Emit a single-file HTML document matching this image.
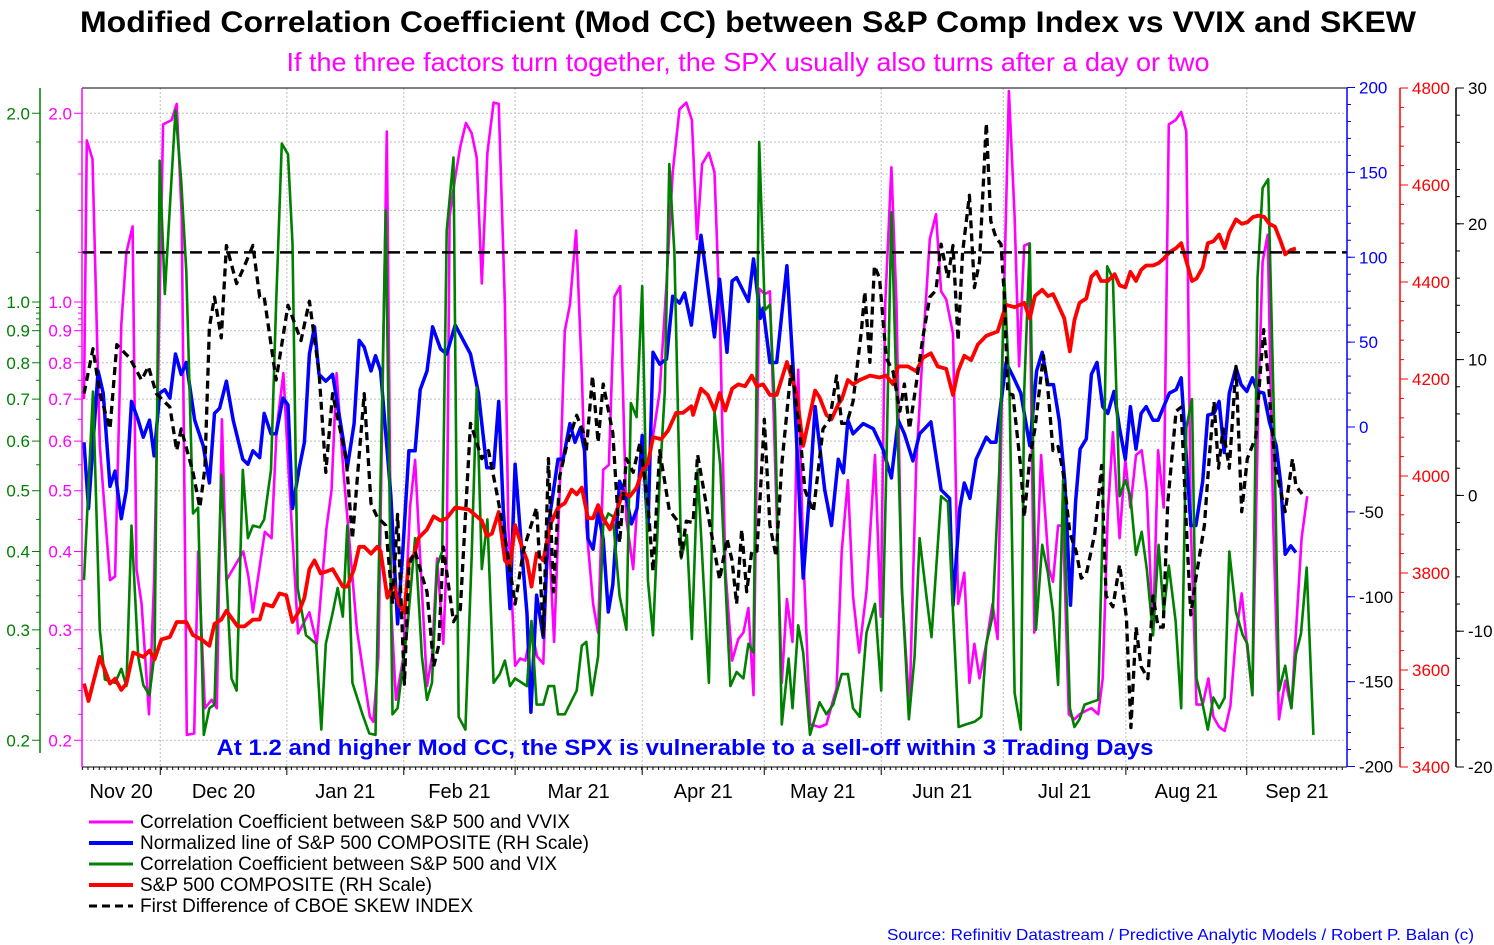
<!DOCTYPE html>
<html><head><meta charset="utf-8"><style>
html,body{margin:0;padding:0;background:#fff;}
svg{display:block;font-family:"Liberation Sans",Arial,sans-serif;}
</style></head><body>
<svg id="chart" width="1494" height="945" viewBox="0 0 1494 945" xmlns="http://www.w3.org/2000/svg">
<text x="748" y="32" text-anchor="middle" font-size="30" font-weight="bold" textLength="1336" lengthAdjust="spacingAndGlyphs">Modified Correlation Coefficient (Mod CC) between S&amp;P Comp Index vs VVIX and SKEW</text>
<text x="748" y="71" text-anchor="middle" font-size="26" fill="#ff00ff" textLength="923" lengthAdjust="spacingAndGlyphs">If the three factors turn together, the SPX usually also turns after a day or two</text>
<g id="grid"></g>
<g id="series"></g>
<g id="axes"></g>
<text x="685" y="755" text-anchor="middle" font-size="22" font-weight="bold" fill="#0000ff" textLength="937" lengthAdjust="spacingAndGlyphs">At 1.2 and higher Mod CC, the SPX is vulnerable to a sell-off within 3 Trading Days</text>
<g id="legend"></g>
<text x="1474" y="940" text-anchor="end" font-size="16" fill="#0000ff" textLength="587" lengthAdjust="spacingAndGlyphs">Source: Refinitiv Datastream / Predictive Analytic Models / Robert P. Balan (c)</text>
</svg>
<script>
// ---- data (x in trading-session index) ----
const monthBounds = [13.5,35.9,56.6,76.3,98.8,120.4,141.1,162.7,184.4,205.8];
const monthLabels = ["Nov 20","Dec 20","Jan 21","Feb 21","Mar 21","Apr 21","May 21","Jun 21","Jul 21","Aug 21","Sep 21"];
const logTicks = [2.0,1.0,0.9,0.8,0.7,0.6,0.5,0.4,0.3,0.2];
const logGrid = [2.0,1.8,1.6,1.4,1.0,0.9,0.8,0.7,0.6,0.5,0.4,0.3,0.2];
const thresholdLevel = 1.2;
const blueTicks = [200,150,100,50,0,-50,-100,-150,-200];
const redTicks = [4800,4600,4400,4200,4000,3800,3600,3400];
const blackTicks = [30,20,10,0,-10,-20];

const vvixDays=[0,0.5,1.5,2.8,4.6,5.5,6.6,7.5,8.6,9.3,10.2,11.5,12.4,14,15.5,16.4,17.3,18.2,19.5,20.2,21.4,22.6,23.5,24.4,25.2,28.2,29.1,29.9,32,33.2,34.1,35.3,36.2,37.9,39.9,41.2,42.9,43.8,44.7,45.9,48.3,50.6,51.2,52.1,53.6,54.4,55.2,56.5,57.7,58.6,59.5,60.7,61.6,62.5,63.6,64.2,64.7,65.7,66.6,67.6,68.6,69.5,70.4,71.4,72.5,73.4,74.5,75.1,76.3,77.2,78.1,79.2,80.2,81.3,82.2,83.2,84.2,85.1,86,87.1,88.1,88.9,90.1,91,91.9,92.9,93.9,94.9,96,97.2,98.4,99.8,100.7,101.9,103.1,104.2,105.4,106.6,107.6,108.5,109.4,110.6,111.6,112.6,113.5,114.7,115.8,116.7,117.6,118.5,119.5,120.5,121.4,123.5,124.4,125.4,126.4,127.3,128.5,130.2,131.4,132.6,133.2,134.1,135.2,136.1,137.2,138.5,140,141,141.8,142.9,143.8,144.7,146.1,147.3,148.5,149.7,150.8,151.7,152.6,153.8,154.7,155.8,156.7,157.6,158.5,159.7,160.8,161.7,162.6,163.7,164.7,165.5,166.4,167.3,168.2,169.4,170.8,171.5,172.4,173.3,174.3,175.3,176.2,177.4,178.3,179.5,180.3,181.2,182.1,183.3,184.3,185.2,186.2,187.2,188.1,189.2,190.1,191.1,192,193.2,194.2,195.1,195.9,196.9,198,199,199.9,200.9,201.9,202.9,203.9,204.9,205.9,206.8,207.9,208.6,209.5,210.5,211.5,212.6,213.7,214.5,215.5,216.5];
const vvixVals=[0.7,1.81,1.69,0.59,0.36,0.365,0.92,1.2,1.32,0.375,0.33,0.22,0.36,1.92,1.95,2.07,1.37,0.204,0.205,0.4,0.225,0.232,0.225,0.65,0.36,0.4,0.365,0.32,0.43,0.42,0.63,0.77,0.54,0.296,0.32,0.285,0.435,0.5,0.77,0.54,0.3,0.218,0.214,0.272,1.87,0.32,0.232,0.27,0.47,0.56,0.39,0.244,0.272,0.39,0.285,0.39,1.37,1.58,1.77,1.93,1.86,1.70,1.07,1.73,2.08,2.07,0.99,0.44,0.263,0.27,0.268,0.30,0.272,0.265,0.44,0.287,0.50,0.9,0.99,1.30,0.77,0.44,0.33,0.297,0.54,0.55,1.02,1.06,0.45,0.375,0.56,0.54,0.61,0.72,1.07,1.61,2.03,2.08,1.95,1.26,1.66,1.73,1.61,0.9,0.375,0.268,0.29,0.297,0.325,0.236,1.05,1.03,1.04,0.247,0.336,0.287,0.78,0.40,0.212,0.21,0.212,0.232,0.242,0.40,0.52,0.34,0.276,0.346,0.57,0.315,0.99,1.64,0.99,0.35,0.225,0.55,0.85,1.26,1.38,1.04,1.01,0.89,0.33,0.37,0.247,0.285,0.251,0.285,0.33,0.29,0.84,2.17,1.37,0.79,1.23,1.24,0.297,0.57,0.375,0.358,0.44,0.44,0.22,0.216,0.22,0.223,0.225,0.22,0.251,0.46,0.62,0.42,0.56,0.47,0.57,0.58,0.50,0.294,0.58,0.47,1.92,1.95,2.01,1.87,0.44,0.228,0.228,0.251,0.218,0.21,0.207,0.227,0.294,0.343,0.28,0.236,0.72,1.16,1.28,0.44,0.216,0.249,0.225,0.297,0.42,0.49];

const normDays=[0,0.8,2.5,3.4,4.6,5.5,6.6,7.5,8.4,9.6,10.5,11.6,12.4,13.4,14.3,15.2,16.2,17.2,18.1,19.6,21.1,22.2,23.1,24,25.2,26.4,28.1,29,29.9,31.1,31.9,33.1,34,35.2,36.1,36.9,38.1,39,39.9,40.8,41.6,42.8,44,45.8,46.6,47.8,48.7,49.6,50.8,51.6,52.5,54.3,55.5,56.4,57.5,58.6,59.5,60.7,61.7,63.1,64.2,65.7,68.4,69.8,70.4,71.3,72.5,73.4,74.2,75.4,76.3,77.5,78.4,79.1,80.1,81.3,82.2,83.9,84.8,86,86.9,87.8,88.6,89.2,90.1,91,91.9,92.8,93.6,94.8,96,96.9,97.9,98.8,99.8,100.7,101.9,103.1,104.2,105.4,106.3,107.5,109.2,111.6,112.5,113.8,114.7,115.5,117.6,118.5,119.7,120.2,121.4,122.6,124.4,125.5,127.3,128.5,129.4,130.2,131.1,132.3,133.5,134.4,135.2,136.1,137.9,139.7,141.4,142.9,144.1,145.2,146.7,147.9,149.9,151.7,153.2,153.8,155,155.8,156.8,157.9,159.7,160.5,161.4,163.2,164.4,165.8,167.4,168.6,169.6,170.6,171.6,172.6,173.6,174.6,175.5,176.3,177.4,178.3,179.3,180.3,181.2,182.3,183.3,184.3,185.2,186.2,187.1,188,189.2,190.1,191.1,192.1,193.3,194.2,195.1,195.9,196.8,198,198.9,200,200.9,201.8,202.7,203.9,204.8,205.8,206.8,207.7,208.8,209.8,211,211.8,212.6,213.6,214.5];
const normVals=[-9,-48,33,20,-35,-26,-54,-37,15,4,-6,4,-17,20,22,17,43,31,38,4,-11,-33,8,11,27,4,-19,-22,-14,-18,8,-4,-4,17,13,-48,-24,-9,43,59,31,27,31,-6,-24,2,51,47,33,42,33,-40,-116,-74,-14,-14,22,33,59,46,43,60,43,20,2,-24,-24,15,-48,-107,-22,-74,-110,-168,-99,-124,-58,-19,-19,2,-9,-1,-14,-66,-72,-50,-66,-109,-93,-32,-42,-57,-48,-5,-61,44,37,40,77,73,79,60,113,53,87,44,86,88,74,99,64,70,38,38,95,35,-89,-35,12,-11,-37,-58,-19,-27,4,-4,2,-1,-13,-30,4,-4,-20,-4,3,-37,-42,-105,-48,-33,-42,-19,-6,-9,-9,38,30,20,-11,33,44,25,25,4,-32,-105,-44,-13,-7,31,38,12,8,21,-1,-19,12,-13,8,12,4,4,12,20,22,29,-17,-58,-58,-32,7,8,15,-15,20,35,25,21,29,21,20,3,-11,-33,-75,-70,-74];

const vixDays=[0,1.6,2.8,3.7,5.5,6.6,7.5,8.4,9.6,10.5,11.6,12.5,13.4,14.3,16.2,17.2,18.1,19.3,20.2,21.2,22.2,23.1,24.3,26.1,27,28.1,29,29.9,31.1,31.9,33.1,34,35,36.1,36.9,37.8,39.3,41.1,42,42.8,44,44.9,45.8,46.6,47.5,49.3,50.5,51.6,52.8,53.4,54.6,55.5,57.2,58.6,59.8,60.7,61.6,62.5,63.4,64.2,65.4,66.3,67.5,68.6,69.5,70.4,71.4,72.5,73.6,74.5,75.4,76.3,78.4,79.2,80.1,81.3,82.2,83.2,83.9,85.1,87.2,88.1,88.9,89.9,91,91.9,92.8,93.6,94.8,96,96.8,97.8,98.8,99.8,100.7,101.9,102.8,103.6,104.5,105.7,106.7,107.6,108.6,110.6,111.6,112.6,113.5,114.4,115.5,116.7,117.6,118.5,119.5,120.5,121.4,122.3,123.5,124.7,125.4,126.4,127.3,128.5,130.2,131.4,132.6,134.1,135.2,136.1,137.3,138.5,140,141.1,142,142.9,143.8,144.8,146,147,147.9,149.1,150,151.7,152.9,153.8,154.8,156.1,157.6,158.8,159.7,160.8,162,162.9,163.8,164.7,165.8,166.4,167.4,168.5,169.6,170.6,171.5,172.4,173.3,174.5,175.3,176.2,177.1,178.3,179.5,180.3,181.1,182.1,183.3,184.3,185.2,186.2,187.2,188.1,189.2,190.2,191.1,192,193.2,194.2,195.1,196.1,196.9,198,198.9,199.9,200.9,201.9,202.7,203.9,205.1,205.9,206.8,207.7,208.6,209.6,210.6,211.5,212.6,213.7,214.5,215.4,216.4,217.6];
const vixVals=[0.36,0.72,0.30,0.25,0.247,0.26,0.244,0.44,0.272,0.245,0.236,0.276,1.68,1.03,2.02,1.56,1.12,0.46,0.47,0.204,0.225,0.228,0.53,0.251,0.24,0.54,0.42,0.44,0.437,0.45,0.54,0.99,1.79,1.72,1.24,0.35,0.294,0.285,0.208,0.285,0.319,0.35,0.315,0.44,0.247,0.22,0.205,0.204,0.72,1.40,0.22,0.225,0.30,0.42,0.272,0.232,0.247,0.38,0.40,1.30,1.70,0.218,0.208,0.39,0.73,0.375,0.45,0.247,0.255,0.268,0.244,0.251,0.244,0.31,0.228,0.228,0.244,0.244,0.22,0.22,0.24,0.283,0.287,0.236,0.272,0.44,0.46,0.455,0.34,0.30,0.69,0.655,1.06,0.36,0.294,0.52,0.72,1.66,1.20,0.39,0.425,0.29,0.54,0.247,0.67,0.55,0.36,0.244,0.257,0.251,0.285,0.276,1.80,0.97,0.99,0.67,0.212,0.27,0.225,0.305,0.276,0.204,0.23,0.22,0.228,0.255,0.255,0.225,0.218,0.297,0.33,0.24,0.54,1.39,0.72,0.346,0.216,0.272,0.42,0.34,0.292,0.49,0.48,0.32,0.21,0.212,0.214,0.218,0.285,0.315,0.54,1.09,0.72,0.238,0.208,0.72,1.24,0.30,0.41,0.37,0.32,0.245,0.52,0.225,0.21,0.216,0.228,0.23,0.232,0.44,1.14,1.09,0.49,0.52,0.49,0.395,0.43,0.375,0.294,0.41,0.32,0.38,0.31,0.225,0.63,0.70,0.251,0.228,0.208,0.234,0.225,0.234,0.40,0.32,0.294,0.285,0.236,1.09,1.52,1.57,0.66,0.24,0.263,0.225,0.274,0.296,0.377,0.204];

const spxDays=[0,0.8,2.8,4.6,5.5,6.6,7.5,8.7,10.5,11.6,12.5,13.7,15.2,16.4,18.1,19.3,20.8,22.2,23.1,24.3,25.2,27.2,28.4,29.9,31.1,31.9,33.4,34.6,35.8,36.9,38.1,39,39.9,40.8,41.9,43.1,44,45.8,46.6,47.8,48.7,49.6,50.8,51.9,52.5,53.7,54.8,55.7,56.7,57.5,58.4,59.2,60.7,61.9,63.1,64.2,65.7,68.1,69.5,70.4,71.3,72.2,73.4,74.5,75.4,76.3,77.5,78.4,79.2,80.1,81.3,82.5,83.9,85.1,86.3,87.2,88.1,89.2,90.1,91,91.9,93.1,94.5,95.4,96.6,97.8,99,99.8,100.7,102.2,103.4,104.8,106,107.5,107.8,109.2,110.4,111.6,112.5,113.5,114.7,115.8,117,118.2,119.1,120.2,121.4,122.6,124.4,126.1,127.3,129.4,130.2,131.4,132.3,133.5,134.1,135.2,136.1,137.3,139.1,140.8,142,143.2,144.1,145.8,147.3,148.5,149.9,151.1,152.6,153.8,154.7,155.8,157,158.2,159.7,161.7,163.2,164.7,166.4,167.4,168.3,169.6,170.6,171.5,172.4,173.5,174.5,175.3,176.2,177.4,178.3,179.2,180,181.2,182.4,183.3,184.3,185.2,186.2,187.1,188,189.2,190.2,191.1,192.1,193.3,194.2,195.1,196.1,196.9,198,198.9,199.9,200.9,201.9,202.7,203.9,204.9,205.9,206.9,207.9,208.9,209.8,210.8,211.8,212.6,213.6,214.5];
const spxVals=[3572,3536,3627,3572,3582,3559,3572,3636,3627,3640,3622,3663,3668,3699,3699,3672,3663,3650,3695,3704,3722,3690,3690,3704,3704,3736,3731,3758,3754,3699,3722,3749,3808,3826,3799,3804,3808,3772,3772,3808,3854,3854,3840,3854,3845,3749,3781,3736,3718,3826,3836,3872,3890,3917,3908,3913,3935,3931,3917,3908,3876,3881,3926,3826,3813,3899,3854,3826,3772,3840,3826,3899,3935,3944,3972,3962,3976,3913,3913,3940,3913,3890,3935,3967,3958,3976,4017,4026,4080,4076,4094,4130,4130,4144,4126,4180,4167,4135,4171,4135,4180,4189,4185,4207,4185,4189,4167,4167,4235,4171,4062,4176,4162,4126,4117,4148,4158,4198,4189,4198,4207,4203,4207,4189,4226,4226,4216,4244,4253,4226,4221,4167,4216,4248,4239,4271,4289,4298,4353,4348,4357,4325,4371,4384,4371,4375,4353,4325,4257,4321,4357,4366,4411,4421,4402,4402,4416,4393,4389,4421,4402,4425,4434,4434,4439,4448,4461,4470,4480,4443,4402,4407,4430,4480,4484,4498,4470,4502,4529,4520,4523,4534,4537,4534,4520,4514,4484,4457,4466,4469];

const skewDays=[0,1.6,2.8,4.6,5.8,8.1,10.2,11.4,12.8,15.2,16.4,17.2,19.3,20.5,21.4,22.2,23.1,24.3,25.2,27,28.4,29.9,31.1,31.9,34,36.1,38.4,39.9,41.6,42.8,44,46.4,47.5,49.6,50.8,51.9,53.4,54.6,55.5,56.7,57.5,58.6,59.8,60.7,61.9,62.8,63.6,65.4,66.6,68.4,69.2,70.4,71.6,73.1,74.8,76.3,77.8,78.9,80.1,80.7,81.3,82.2,83.1,84.2,85.4,87.2,88.4,88.9,90,91,91.9,93.6,94.8,96,97.2,98.4,99.8,100.7,101.9,103.6,105.1,105.7,106.6,107.8,108.6,110.1,112.5,113.8,114.7,115.5,116.4,117.3,118.2,119.1,119.7,120.4,121.4,122.5,123.5,125.2,126.7,127.6,129.1,130.8,132,133.2,134.1,135,136.1,137.6,138.2,139.1,139.9,140.8,142,143.2,144.4,145.2,146.1,147.3,148.5,149.7,150.8,151.7,152.9,153.8,154.7,155.5,156.7,157.6,158.5,159.7,160.5,161.4,162.3,162.9,163.5,164.4,165.8,166.4,167.4,168.3,169.8,170.6,171.5,172.4,173.3,174.5,175.6,176.5,177.4,178.9,180.1,180.9,182.1,183.3,184.5,185.3,186.2,187.1,188.3,189.2,190.1,191,191.8,193.3,194.2,195.1,195.9,196.8,198.3,199.2,200,200.8,201.6,202.7,203.9,204.9,205.9,207.4,208.2,208.8,209.5,210,210.9,212.6,213.9,214.5,215.6];
const skewVals=[7.5,10.8,7.5,4.9,11.1,10.1,8.5,9.5,7.5,6.5,3.3,4.9,1.7,-0.9,2,12.4,14.6,11.6,18.4,15.6,16.9,18.4,14.6,14.6,8.5,14,11.4,14.3,9.1,1.7,7.5,2.7,-3.2,7.5,-0.6,-1.6,-2.2,-8,-1.4,-13.9,-5.1,-4.1,-5.9,-7.1,-12.6,-11,-3.8,-9.3,-8.4,5.3,4.3,2.7,3.3,0.1,-3.8,-8,-4,-2.5,-0.9,-5.4,-10.3,2.7,-7.1,1.4,3.6,5.9,4.6,3.3,8.8,3.9,8.2,4.6,-3.5,2.7,1.7,3.9,-0.6,-5.6,3.3,-1.1,-1.9,-4.5,-1.9,-2,3,-0.6,-6.2,-3.2,-4.8,-8,-2.5,-7.1,-4.1,-4.1,0.1,5.6,-2.2,-4.5,2.3,9.5,4.6,0.4,-1.2,4.9,5.6,8.8,5.3,5.3,6.9,12.1,15,9.8,16.9,16,10.1,9.1,6.2,8.2,4.9,8.2,11.7,14.6,15.1,18.5,16,18.4,11.4,17.9,22.1,15.3,17.2,27.4,20.2,19,18.5,14.6,7.5,7.4,2,-1.6,2.7,4.9,10.3,7.8,3.3,3.6,1.7,-2.8,-4.1,-6.1,-5.8,-2.8,2.2,-7.4,-8.2,-5.1,-9,-17.1,-9.7,-12.6,-13.5,-7.4,-9.7,-9.7,-0.6,6.2,6.5,-2.2,-8.8,-6.1,-2.2,3,6.9,2,4.9,2,9.5,-1.2,2.7,4.3,9.1,12.2,9.1,6.2,2,-1.2,2.7,0.7,0.1];

// ---- scales ----
const X0=84, DX=5.65, L=82, R=1347, T=88, B=767;
const xs = d => X0 + d*DX;
const yLog = v => 302 - 627*Math.log10(v);
const yBlue = v => 427 - v*(B-T)/400;
const yRed = v => T + (4800-v)*(B-T)/1400;
const yBlack = v => T + (30-v)*(B-T)/50;

const NS="http://www.w3.org/2000/svg";
function mk(tag, attrs, parent){const e=document.createElementNS(NS,tag);for(const k in attrs)e.setAttribute(k,attrs[k]);parent.appendChild(e);return e;}
const grid=document.getElementById('grid'), series=document.getElementById('series'), axes=document.getElementById('axes'), legend=document.getElementById('legend');

// gridlines
logGrid.forEach(v=>{const l=mk('line',{x1:L,x2:R,y1:yLog(v),y2:yLog(v),stroke:'#bdbdbd','stroke-width':1,'stroke-dasharray':'2,2'},grid);

});
monthBounds.forEach(d=>{const l=mk('line',{x1:xs(d),x2:xs(d),y1:T,y2:B,stroke:'#bdbdbd','stroke-width':1,'stroke-dasharray':'2,2'},grid);

});

// series
function line(days, vals, yf, color, w, dash, name){
  let d=''; days.forEach((t,i)=>{d+=(i?'L':'M')+xs(t).toFixed(1)+','+yf(vals[i]).toFixed(1);});
  const p=mk('path',{d:d,fill:'none',stroke:color,'stroke-width':w,'stroke-linejoin':'round'},series);
  if(dash)p.setAttribute('stroke-dasharray',dash);
  
  
}
line(vvixDays,vvixVals,yLog,'#ff00ff',2.6,null,'vvix-correlation-line');
line(normDays,normVals,yBlue,'#0000ff',3.5,null,'normalized-spx-line');
line(vixDays,vixVals,yLog,'#008000',2.6,null,'vix-correlation-line');
line(spxDays,spxVals,yRed,'#ff0000',3.8,null,'spx-composite-line');
line(skewDays,skewVals,yBlack,'#000000',3.3,'8,5','skew-first-difference-line');
const th=mk('line',{x1:L,x2:R,y1:yLog(thresholdLevel),y2:yLog(thresholdLevel),stroke:'#000','stroke-width':2.5,'stroke-dasharray':'12,6'},series);



// frame
const fr=mk('line',{x1:L,x2:R,y1:T,y2:T,stroke:'#000','stroke-width':1},axes);


const xa=mk('line',{x1:L,x2:R,y1:B,y2:B,stroke:'#000','stroke-width':1},axes);


for(let d=-0.3; xs(d)<R; d+=1){mk('line',{x1:xs(d),x2:xs(d),y1:B,y2:B+3,stroke:'#000','stroke-width':1},axes);}
monthBounds.forEach(d=>mk('line',{x1:xs(d),x2:xs(d),y1:B,y2:B+8,stroke:'#000','stroke-width':1},axes));
const edges=[L].concat(monthBounds.map(xs)).concat([R]);
monthLabels.forEach((lab,i)=>{const t=mk('text',{x:(edges[i]+edges[i+1])/2,y:798,'text-anchor':'middle','font-size':20},axes);t.textContent=lab;

});

// left axes (magenta & green)
[[L,'#ff00ff',75,'vvix-axis'],[40,'#008000',33,'vix-axis']].forEach(([ax,c,lx,nm])=>{
  const a=mk('line',{x1:ax,x2:ax,y1:T,y2:(nm==='vix-axis'?753:B),stroke:c,'stroke-width':1.5},axes);
  
  
  const minors=[0.22,0.24,0.26,0.28,0.32,0.34,0.36,0.38,0.45,0.55,0.65,0.75,0.85,0.92,0.94,0.96,0.98,1.2,1.4,1.6,1.8];
  minors.forEach(v=>mk('line',{x1:ax-4,x2:ax,y1:yLog(v),y2:yLog(v),stroke:c,'stroke-width':1},axes));
  logTicks.forEach(v=>{mk('line',{x1:ax-8,x2:ax,y1:yLog(v),y2:yLog(v),stroke:c,'stroke-width':1},axes);
    const t=mk('text',{x:lx-3,y:yLog(v)+6,'text-anchor':'end','font-size':17,fill:c},axes);t.textContent=v.toFixed(1);
    
    });
});

// right axes
function rightAxis(ax,color,ticks,yf,minorStep,lo,hi,nm,labelColor){
  const a=mk('line',{x1:ax,x2:ax,y1:T,y2:B,stroke:color,'stroke-width':1.5},axes);
  
  
  for(let v=lo; v<=hi+1e-9; v+=minorStep) mk('line',{x1:ax,x2:ax+4,y1:yf(v),y2:yf(v),stroke:color,'stroke-width':1},axes);
  ticks.forEach(v=>{mk('line',{x1:ax,x2:ax+8,y1:yf(v),y2:yf(v),stroke:color,'stroke-width':1},axes);
    const t=mk('text',{x:ax+12,y:yf(v)+6,'font-size':17,fill:labelColor(v)},axes);t.textContent=String(v);
    
    });
}
rightAxis(1347,'#0000ff',blueTicks,yBlue,10,-200,200,'normalized-axis',v=>v>=0?'#0000ff':'#000');
rightAxis(1400,'#ff0000',redTicks,yRed,40,3400,4800,'spx-axis',v=>'#ff0000');
rightAxis(1456,'#000000',blackTicks,yBlack,2,-20,30,'skew-axis',v=>'#000');

// legend
const legItems=[["Correlation Coefficient between S&P 500 and VVIX",'#ff00ff',3,null,430],["Normalized line of S&P 500 COMPOSITE (RH Scale)",'#0000ff',4,null,449],["Correlation Coefficient between S&P 500 and VIX",'#008000',3,null,417],["S&P 500 COMPOSITE (RH Scale)",'#ff0000',4,null,292],["First Difference of CBOE SKEW INDEX",'#000',3,'8,5',333]];
legItems.forEach((it,i)=>{const y=822+i*21;
  const g=mk('g',{},legend);
  
  
  const l=mk('line',{x1:89,x2:133,y1:y,y2:y,stroke:it[1],'stroke-width':it[2]},g); if(it[3])l.setAttribute('stroke-dasharray',it[3]);
  const t=mk('text',{x:140,y:y+6,'font-size':19,textLength:it[4],lengthAdjust:'spacingAndGlyphs'},g);t.textContent=it[0];});
</script>
</body></html>
